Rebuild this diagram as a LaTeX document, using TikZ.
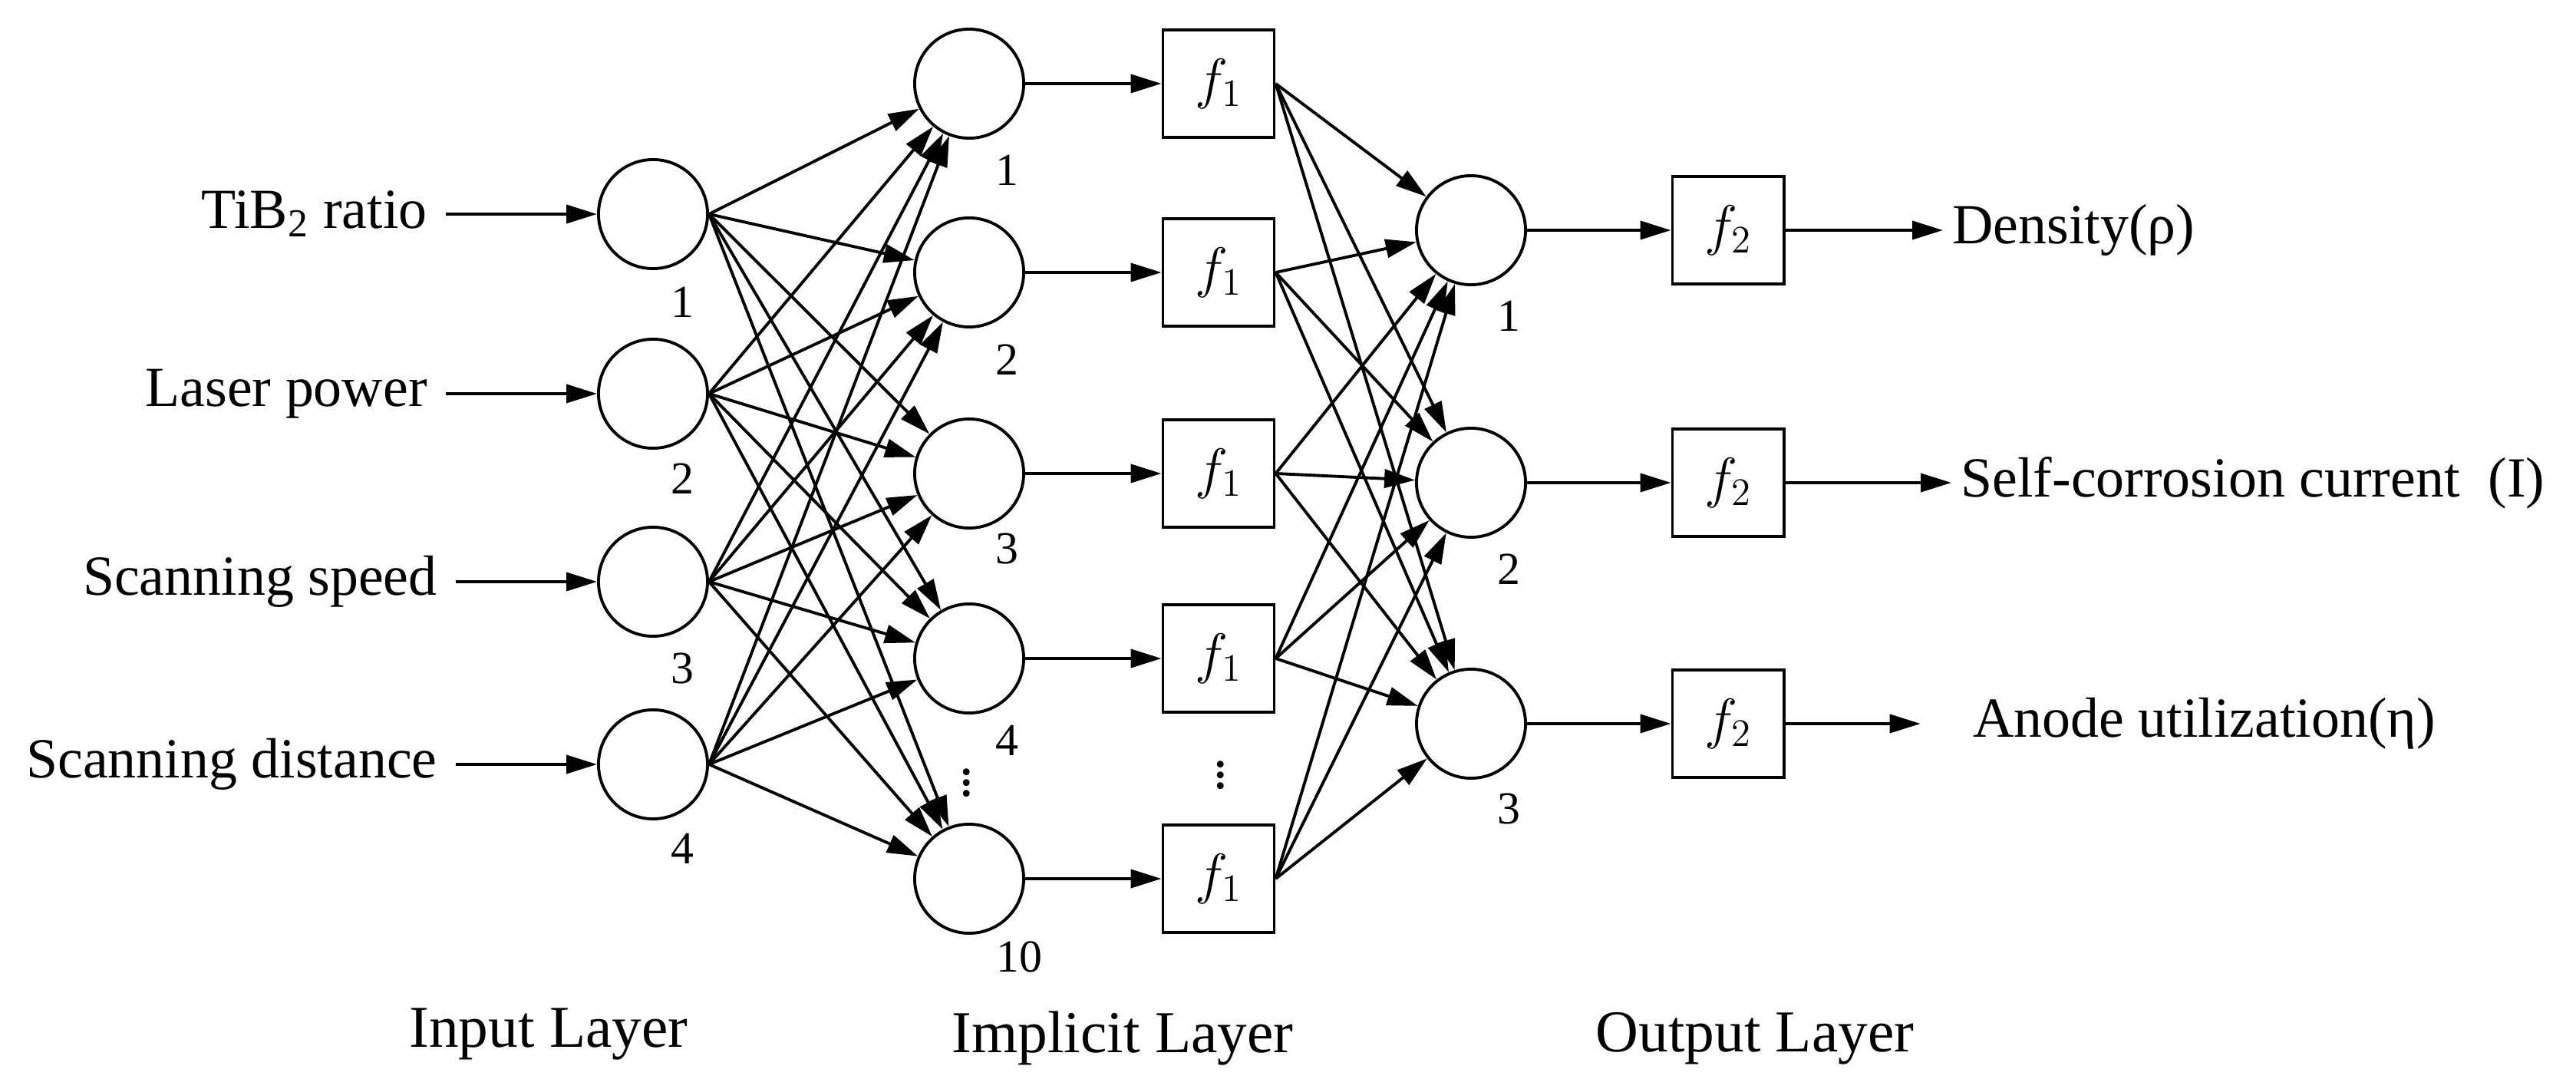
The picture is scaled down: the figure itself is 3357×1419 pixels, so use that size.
\documentclass[tikz,border=0pt]{standalone}
\usepackage{fontspec}
\setmainfont{Liberation Serif}
\usetikzlibrary{arrows.meta}
\begin{document}
\begin{tikzpicture}[x=0.01cm,y=-0.01cm,
  every node/.style={font=\fontsize{21}{24}\selectfont},
  neu/.style={circle,draw,line width=1.1pt,minimum size=1.42cm,inner sep=0pt},
  fbox/.style={rectangle,draw,line width=1.1pt,minimum width=1.45cm,minimum height=1.4cm,inner sep=0pt},
  num/.style={font=\fontsize{17}{20}\selectfont},
  arr/.style={line width=1.1pt,-{Triangle[length=0.4cm,width=0.24cm]}},
  lab/.style={font=\fontsize{22}{26}\selectfont}]
\useasboundingbox (0,0) rectangle (3357,1419);
% input
\foreach \i/\y in {1/279,2/513,3/758,4/996}{
  \node[neu] (in\i) at (851,\y) {};
}
\node[num] at (889,394) {1};
\node[num] at (889,624) {2};
\node[num] at (889,871) {3};
\node[num] at (889,1106) {4};
\node[anchor=east] (t1) at (569,279) {TiB\textsubscript{2} ratio};
\node[anchor=east] (t2) at (569,513) {Laser power};
\node[anchor=east] (t3) at (582,758) {Scanning speed};
\node[anchor=east] (t4) at (582,996) {Scanning distance};
\foreach \i in {1,...,4}{ \draw[arr] (t\i.east) ++(12,0) coordinate (s\i) -- (in\i); }
% hidden
\foreach \i/\y in {1/109,2/355,3/617,4/858,5/1145}{
  \node[neu] (h\i) at (1263,\y) {};
  \node[fbox] (f\i) at (1588,\y) {\(f_1\)};
  \draw[arr] (h\i) -- (f\i);
}
\node[num] at (1312,222) {1};
\node[num] at (1312,469) {2};
\node[num] at (1312,715) {3};
\node[num] at (1312,965) {4};
\node[num] at (1328,1247) {10};
\node at (1260,1010) {\(\vdots\)};
\node at (1591,1000) {\(\vdots\)};
\foreach \i in {1,...,4}{\foreach \j in {1,...,5}{ \draw[arr] (in\i.east) -- (h\j); }}
% output
\foreach \i/\y in {1/300,2/629,3/943}{
  \node[neu] (o\i) at (1917,\y) {};
  \node[fbox] (g\i) at (2252,\y) {\(f_2\)};
  \draw[arr] (o\i) -- (g\i);
}
\foreach \i in {1,...,5}{\foreach \j in {1,...,3}{ \draw[arr] (f\i.east) -- (o\j); }}
\node[num] at (1966,412) {1};
\node[num] at (1966,742) {2};
\node[num] at (1966,1054) {3};
\node[anchor=west] (d1) at (2532,300) {Density(ρ)};
\node[anchor=west] (d2) at (2543,629) {Self-corrosion current\ \ (I)};
\node[anchor=west] (d3) at (2559,943) {Anode utilization(η)};
\draw[arr] (g1) -- (d1.west);
\draw[arr] (g2) -- (d2.west);
\draw[arr] (g3) -- ([xshift=-16]d3.west);
% layer labels
\node[lab] at (715,1348) {Input Layer};
\node[lab] at (1463,1353) {Implicit Layer};
\node[lab] at (2287,1353) {Output Layer};
\end{tikzpicture}
\end{document}
